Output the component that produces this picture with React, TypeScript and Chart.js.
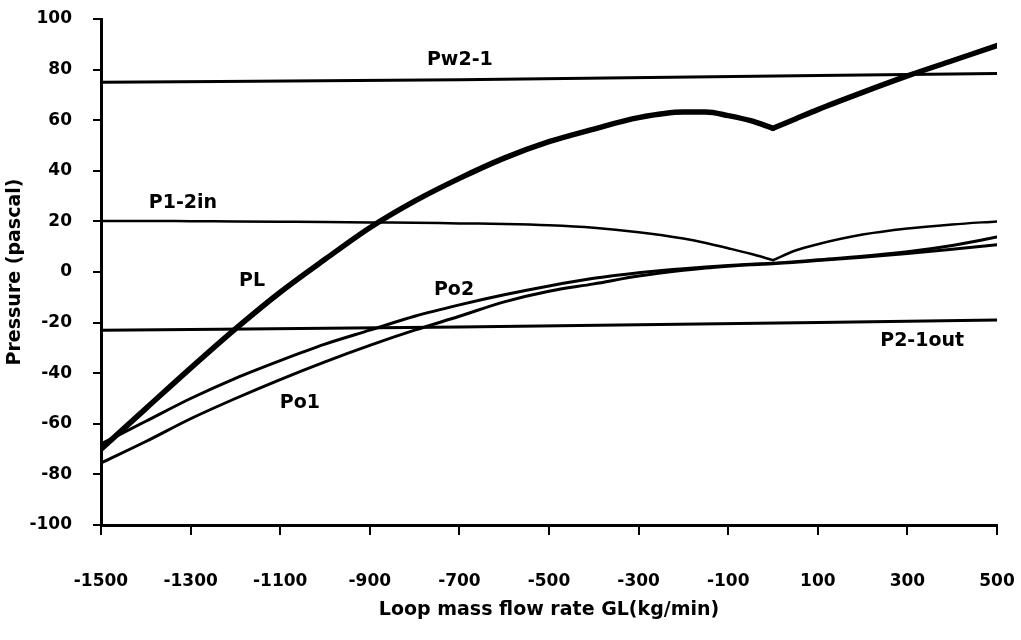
import React, { useEffect, useRef } from "react";
import { Chart, registerables } from "chart.js";

Chart.register(...registerables);

// Loop mass flow rate GL (kg/min)
const GL = [-1500, -1400, -1300, -1200, -1100, -1000, -900, -800, -700, -600, -500, -400, -300, -200, -150, -100, -50, 0, 50, 100, 200, 300, 400, 500];
const PL = [-70, -54, -38, -22.5, -8, 5, 17.5, 28, 37, 45, 51.5, 56.5, 61, 63.2, 63.2, 61.8, 59.8, 56.8, 60.5, 64.2, 71, 77.5, 83.5, 89.5];
const P12IN = [20.2, 20.2, 20.1, 20, 19.9, 19.8, 19.6, 19.5, 19.2, 19, 18.5, 17.5, 15.7, 13.2, 11.5, 9.4, 7.2, 4.7, 8.5, 11, 14.8, 17.2, 18.8, 20];
const PO2 = [-68, -59, -50, -42, -35, -28.5, -23, -17.5, -13, -9, -5.5, -2.5, -0.3, 1.3, 2, 2.6, 3.1, 3.5, 4.1, 4.8, 6.2, 8, 10.5, 13.8];
const PO1 = [-75.5, -67, -58, -50, -42.5, -35.5, -29, -23, -17.5, -11.8, -7.6, -4.7, -1.6, 0.7, 1.6, 2.3, 2.9, 3.3, 3.9, 4.5, 5.8, 7.3, 9, 10.8];

const GL_FLAT = [-1500, -700, 500];
const PW21 = [75, 76, 78.5];
const P21OUT = [-23, -21.7, -19];

// Series labels (anchor in data coordinates)
const LABEL_TEXT = ["Pw2-1", "P1-2in", "PL", "Po2", "Po1", "P2-1out"];
const LABEL_GL = [-699, -1317, -1163, -712, -1056, 333];
const LABEL_P = [83.6, 27.2, -3.6, -7.1, -51.7, -27.2];

const X_TICK_MIN = -1500;
const X_TICK_MAX = 500;
const X_STEP = 200;
const Y_TICK_MIN = -100;
const Y_TICK_MAX = 100;
const Y_STEP = 20;

const FONT = '"DejaVu Sans", "Liberation Sans", Arial, sans-serif';
const INK = "#000000";

function pts(xs: number[], ys: number[], pred?: (x: number) => boolean) {
  const out: { x: number; y: number }[] = [];
  xs.forEach((x, i) => {
    if (!pred || pred(x)) out.push({ x, y: ys[i] });
  });
  return out;
}

function lineDs(data: { x: number; y: number }[], width: number) {
  return {
    data,
    borderColor: INK,
    borderWidth: width,
    pointRadius: 0,
    fill: false,
    cubicInterpolationMode: "monotone" as const,
    borderCapStyle: "round" as const,
    borderJoinStyle: "round" as const,
  };
}

const labelPlugin = {
  id: "seriesLabels",
  afterDatasetsDraw(chart: any) {
    const { ctx, scales } = chart;
    ctx.save();
    ctx.fillStyle = INK;
    ctx.font = `bold 19px ${FONT}`;
    ctx.textAlign = "center";
    ctx.textBaseline = "middle";
    LABEL_TEXT.forEach((t, i) => {
      const px = scales.x.getPixelForValue(LABEL_GL[i]);
      const py = scales.y.getPixelForValue(LABEL_P[i]);
      ctx.fillText(t, px, py);
    });
    ctx.restore();
  },
};

export default function App() {
  const ref = useRef<HTMLCanvasElement | null>(null);

  useEffect(() => {
    if (!ref.current) return;
    const chart = new Chart(ref.current, {
      type: "line",
      data: {
        datasets: [
          lineDs(pts(GL_FLAT, PW21), 3),
          lineDs(pts(GL_FLAT, P21OUT), 3),
          lineDs(pts(GL, P12IN, (x) => x <= 0), 2.5),
          lineDs(pts(GL, P12IN, (x) => x >= 0), 2.5),
          lineDs(pts(GL, PO2), 3),
          lineDs(pts(GL, PO1), 3),
          lineDs(pts(GL, PL, (x) => x <= 0), 5.5),
          lineDs(pts(GL, PL, (x) => x >= 0), 5.5),
        ],
      },
      options: {
        responsive: false,
        animation: false,
        events: [],
        layout: { padding: { top: 19, right: 24, left: 0, bottom: 0 } },
        plugins: {
          legend: { display: false },
          tooltip: { enabled: false },
        },
        scales: {
          x: {
            type: "linear",
            min: X_TICK_MIN,
            max: X_TICK_MAX,
            afterFit: (s: any) => {
              s.height = 115;
              s.paddingLeft = 0;
              s.paddingRight = 0;
            },
            ticks: {
              stepSize: X_STEP,
              color: INK,
              font: { family: FONT, size: 17, weight: "bold" },
              padding: 36,
              maxRotation: 0,
              autoSkip: false,
              callback: (v: any) => String(v),
            },
            grid: {
              drawOnChartArea: false,
              drawTicks: true,
              tickLength: 10,
              color: INK,
              lineWidth: 2,
            },
            border: { display: true, color: INK, width: 3 },
            title: {
              display: true,
              text: "Loop mass flow rate GL(kg/min)",
              color: INK,
              font: { family: FONT, size: 19, weight: "bold" },
              padding: { top: 0, bottom: 19 },
            },
          },
          y: {
            type: "linear",
            min: Y_TICK_MIN,
            max: Y_TICK_MAX,
            afterFit: (s: any) => {
              s.width = 101;
              s.paddingTop = 0;
              s.paddingBottom = 0;
            },
            ticks: {
              stepSize: Y_STEP,
              color: INK,
              font: { family: FONT, size: 17, weight: "bold" },
              padding: 21,
              callback: (v: any) => String(v),
            },
            grid: {
              drawOnChartArea: false,
              drawTicks: true,
              tickLength: 8,
              color: INK,
              lineWidth: 2,
            },
            border: { display: true, color: INK, width: 3 },
            title: {
              display: true,
              text: "Pressure (pascal)",
              color: INK,
              font: { family: FONT, size: 19, weight: "bold" },
              padding: { top: 4, bottom: 0 },
            },
          },
        },
      },
      plugins: [labelPlugin],
    } as any);
    return () => chart.destroy();
  }, []);

  return (
    <div style={{ position: "fixed", left: 0, top: 0, width: 1021, height: 640, background: "#fff" }}>
      <canvas ref={ref} width={1021} height={640} style={{ display: "block" }} />
    </div>
  );
}
